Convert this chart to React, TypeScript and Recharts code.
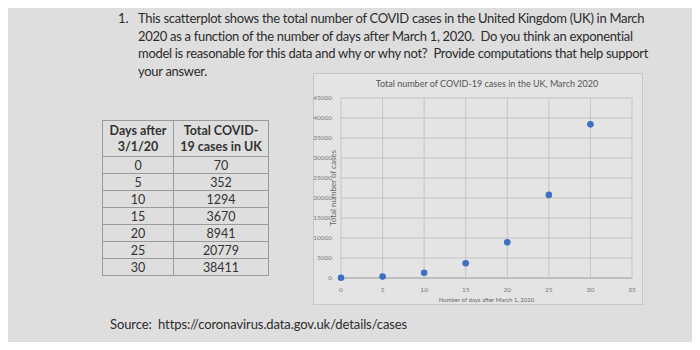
import React from "react";
import { ScatterChart, Scatter, XAxis, YAxis, CartesianGrid } from "recharts";

const days = [0, 5, 10, 15, 20, 25, 30];
const cases = [70, 352, 1294, 3670, 8941, 20779, 38411];
const xTicks = [0, 5, 10, 15, 20, 25, 30, 35];
const yTicks = [0, 5000, 10000, 15000, 20000, 25000, 30000, 35000, 40000, 45000];
const questionLines = [
  "This scatterplot shows the total number of COVID cases in the United Kingdom (UK) in March",
  "2020 as a function of the number of days after March 1, 2020.  Do you think an exponential",
  "model is reasonable for this data and why or why not?  Provide computations that help support",
  "your answer.",
];
const chartTitle = "Total number of COVID-19 cases in the UK, March 2020";
const xLabel = "Number of days after March 1, 2020";
const yLabel = "Total number of cases";
const sourceText = "Source:  https://coronavirus.data.gov.uk/details/cases";

const data = days.map((d, i) => ({ x: d, y: cases[i] }));

const font = "Lato, 'Open Sans', sans-serif";

export default function App() {
  const rowH = 17;
  const cell = { border: "1px solid #9a9a9a", textAlign: "center" as const, height: rowH - 1, padding: 0 };
  return (
    <div
      style={{
        position: "relative",
        width: 700,
        height: 350,
        margin: -8,
        background: "#dedede",
        overflow: "hidden",
        fontFamily: font,
        color: "#2c2c2c",
      }}
    >
      <div style={{ position: "absolute", left: 0, top: 0, width: 5, height: 350, background: "#9a9aa0" }} />
      <div style={{ position: "absolute", left: 118, top: 10, fontSize: 13 }}>1.</div>
      {questionLines.map((l, i) => (
        <div
          key={i}
          style={{
            position: "absolute",
            left: 138,
            top: 10 + i * 17.5,
            fontSize: 13,
            letterSpacing: -0.3,
            whiteSpace: "pre",
          }}
        >
          {l}
        </div>
      ))}

      <table
        style={{
          position: "absolute",
          left: 102,
          top: 120,
          borderCollapse: "collapse",
          fontSize: 12.5,
          fontFamily: font,
          color: "#333",
        }}
      >
        <thead>
          <tr>
            <th style={{ border: "1px solid #9a9a9a", width: 70, height: 35, fontWeight: 700, lineHeight: "16px", padding: 0 }}>
              Days after
              <br />
              3/1/20
            </th>
            <th style={{ border: "1px solid #9a9a9a", width: 94, height: 35, fontWeight: 700, lineHeight: "16px", padding: 0 }}>
              Total COVID-
              <br />
              19 cases in UK
            </th>
          </tr>
        </thead>
        <tbody>
          {days.map((d, i) => (
            <tr key={d}>
              <td style={cell}>{d}</td>
              <td style={cell}>{cases[i]}</td>
            </tr>
          ))}
        </tbody>
      </table>

      <div
        style={{
          position: "absolute",
          left: 313,
          top: 73,
          width: 330,
          height: 232,
          border: "1px solid #c6c6c6",
          background: "#e4e4e4",
          boxSizing: "border-box",
        }}
      />
      <div style={{ position: "absolute", left: 313, top: 73 }}>
        <ScatterChart width={330} height={232} margin={{ top: 25, right: 11, left: 0, bottom: 0 }}>
          <CartesianGrid stroke="#c4c4c4" strokeWidth={1} />
          <XAxis
            type="number"
            dataKey="x"
            domain={[0, 35]}
            ticks={xTicks}
            height={27}
            tickLine={false}
            axisLine={{ stroke: "#a8a8a8" }}
            tick={{ fontSize: 6.5, fill: "#7a7a7a", fontFamily: font }}
            tickMargin={3}
          />
          <YAxis
            type="number"
            dataKey="y"
            domain={[0, 45000]}
            ticks={yTicks}
            width={28}
            tickLine={false}
            axisLine={false}
            tick={{ fontSize: 6.5, fill: "#7a7a7a", fontFamily: font }}
            tickMargin={3}
            interval={0}
          />
          <Scatter
            data={data}
            fill="#3f6fc0"
            isAnimationActive={false}
            shape={(p: any) => <circle cx={p.cx} cy={p.cy} r={3.3} fill="#3f6fc0" />}
          />
        </ScatterChart>
      </div>
      <div style={{ position: "absolute", left: 313, width: 348, top: 78, textAlign: "center", fontSize: 9, color: "#555", whiteSpace: "nowrap" }}>
        {chartTitle}
      </div>
      <div style={{ position: "absolute", left: 341, width: 291, top: 296, textAlign: "center", fontSize: 6, color: "#666", whiteSpace: "nowrap" }}>
        {xLabel}
      </div>
      <div
        style={{
          position: "absolute",
          left: 333,
          top: 188,
          transform: "translate(-50%, -50%) rotate(-90deg)",
          fontSize: 8,
          color: "#666",
          whiteSpace: "nowrap",
        }}
      >
        {yLabel}
      </div>

      <div style={{ position: "absolute", left: 110, top: 316, fontSize: 13, letterSpacing: -0.1, whiteSpace: "pre" }}>{sourceText}</div>
    </div>
  );
}
